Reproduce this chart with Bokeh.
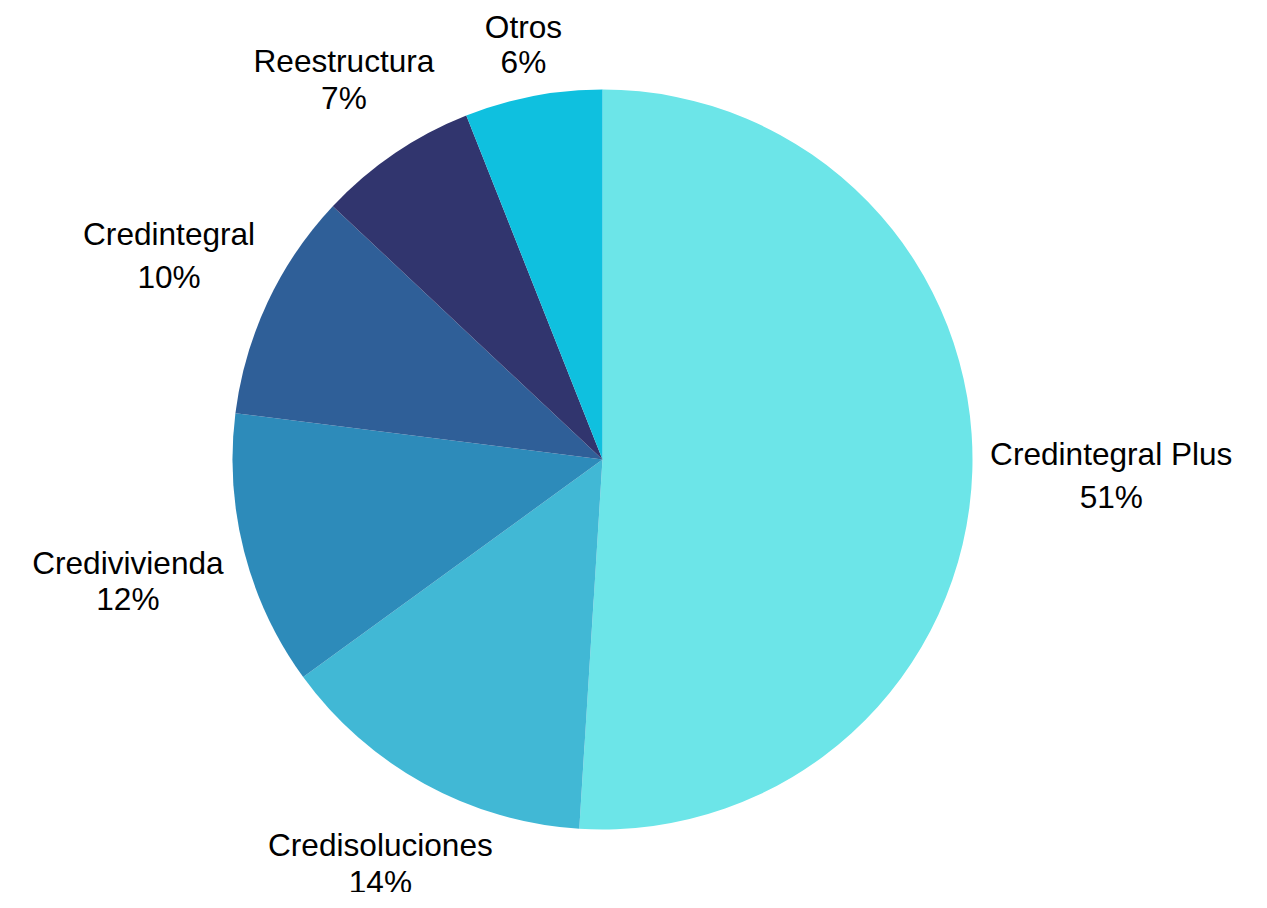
import numpy as np
from bokeh.plotting import figure
from bokeh.models import Range1d, ColumnDataSource
from bokeh.core.properties import value
from bokeh.embed import file_html
from bokeh.resources import INLINE

categories = ["Credintegral Plus", "Credisoluciones", "Credivivienda", "Credintegral", "Reestructura", "Otros"]
shares = [51, 14, 12, 10, 7, 6]
colors = ["#6CE5E8", "#41B8D5", "#2D8BBA", "#2F5F98", "#31356E", "#0FC0DF"]

# label layout (distance of label centre from pie centre, gap between lines)
label_dist = [509, 461, 490, 479, 460, 422]
line_gap = [43, 37, 36, 43, 37, 35]

W, H = 1251, 892
p = figure(width=W, height=H, output_backend="svg", toolbar_location=None,
           x_range=Range1d(0, W), y_range=Range1d(908 - H, 908),
           min_border=0)
p.axis.visible = False
p.grid.visible = False
p.outline_line_color = None

cx, cy, r = 602, 449, 370
fr = np.array(shares, dtype=float) / sum(shares)
cum = np.concatenate([[0], np.cumsum(fr)])
start = np.pi / 2 - cum[:-1] * 2 * np.pi
end = np.pi / 2 - cum[1:] * 2 * np.pi
mid = (start + end) / 2

src = ColumnDataSource(dict(start=start, end=end, color=colors))
p.wedge(x=cx, y=cy, radius=r, start_angle="start", end_angle="end",
        direction="clock", fill_color="color", line_color=None, source=src)

d = np.array(label_dist, dtype=float)
g = np.array(line_gap, dtype=float)
lx = cx + d * np.cos(mid)
ly = cy + d * np.sin(mid)
names = ColumnDataSource(dict(x=lx, y=ly + g / 2, t=categories))
pcts = ColumnDataSource(dict(x=lx, y=ly - g / 2, t=[f"{s}%" for s in shares]))
for s in (names, pcts):
    p.text(x="x", y="y", text="t", source=s, text_align="center", text_baseline="middle",
           text_font=value("Liberation Sans"), text_font_size="31.6px", text_color="#000000")

open("out.html", "w").write(file_html(p, INLINE))
